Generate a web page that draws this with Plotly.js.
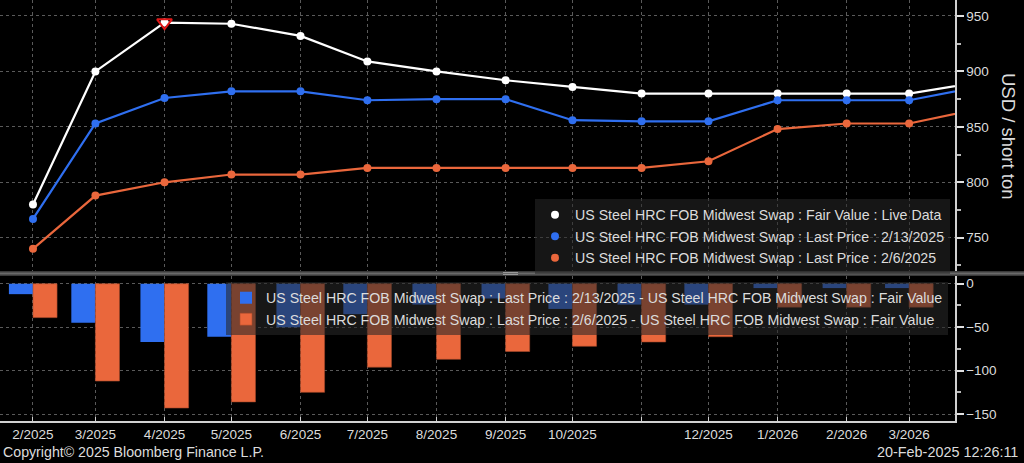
<!DOCTYPE html>
<html>
<head>
<meta charset="utf-8">
<script src="https://cdn.plot.ly/plotly-3.0.1.min.js"></script>
<style>
html,body{margin:0;padding:0;background:#000;}
#chart{width:1024px;height:463px;}
</style>
</head>
<body>
<div id="chart"></div>
<script>
// ---- data ----
var months = ['2025-02-01','2025-03-01','2025-04-01','2025-05-01','2025-06-01','2025-07-01','2025-08-01','2025-09-01','2025-10-01','2025-11-01','2025-12-01','2026-01-01','2026-02-01','2026-03-01','2026-04-01'];
var fairValue = [780, 900, 944, 943, 932, 909, 900, 892, 886, 880, 880, 880, 880, 880, 890];
var last0213  = [767, 853, 876, 882, 882, 874, 875, 875, 856, 855, 855, 874, 874, 874, 886];
var last0206  = [740, 788, 800, 807, 807, 813, 813, 813, 813, 813, 819, 848, 853, 853, 866];

var barMonths = ['2025-02-01','2025-03-01','2025-04-01','2025-05-01','2025-06-01','2025-07-01','2025-08-01','2025-09-01','2025-10-01','2025-11-01','2025-12-01','2026-01-01','2026-02-01','2026-03-01'];
var diff0213 = [-12, -45, -67, -61, -50, -35, -24, -17, -29, -24, -24, -5, -5, -5];
var diff0206 = [-39, -112, -143, -136, -125, -96, -87, -78, -72, -67, -61, -27, -27, -27];

var tickVals = ['2025-02-01','2025-03-01','2025-04-01','2025-05-01','2025-06-01','2025-07-01','2025-08-01','2025-09-01','2025-10-01','2025-11-01','2025-12-01','2026-01-01','2026-02-01','2026-03-01'];
var tickText = ['2/2025','3/2025','4/2025','5/2025','6/2025','7/2025','8/2025','9/2025','10/2025','','12/2025','1/2026','2/2026','3/2026'];

var nameFV = 'US Steel HRC FOB Midwest Swap : Fair Value : Live Data';
var name13 = 'US Steel HRC FOB Midwest Swap : Last Price : 2/13/2025';
var name06 = 'US Steel HRC FOB Midwest Swap : Last Price : 2/6/2025';
var nameD13 = 'US Steel HRC FOB Midwest Swap : Last Price : 2/13/2025 - US Steel HRC FOB Midwest Swap : Fair Value';
var nameD06 = 'US Steel HRC FOB Midwest Swap : Last Price : 2/6/2025 - US Steel HRC FOB Midwest Swap : Fair Value';

// ---- style ----
var WHITE = '#ffffff', BLUE = '#2f6ff0', ORANGE = '#ea673c';
var TXT = '#dcdcdc', GRID = '#5a5a5a';
var FONT = 'Liberation Sans, Arial, sans-serif';
var DAY = 86400000;
var barW = 10.8 * DAY;

var maxIdx = fairValue.indexOf(Math.max.apply(null, fairValue));

function lineTrace(y, color){
  return {x: months, y: y, xaxis:'x2', yaxis:'y2', type:'scatter', mode:'lines',
          line:{color: color, width:2.2}, showlegend:false, hoverinfo:'skip'};
}
function markerTrace(y, color, name){
  return {x: months, y: y, xaxis:'x2', yaxis:'y2', type:'scatter', mode:'markers',
          marker:{color: color, size:8, symbol:'circle'}, name: name, legend:'legend'};
}

var data = [
  lineTrace(last0206, ORANGE),
  lineTrace(last0213, BLUE),
  lineTrace(fairValue, WHITE),
  markerTrace(fairValue, WHITE, nameFV),
  markerTrace(last0213, BLUE, name13),
  markerTrace(last0206, ORANGE, name06),
  {x:[months[maxIdx]], y:[fairValue[maxIdx]], xaxis:'x2', yaxis:'y2', type:'scatter', mode:'markers',
   marker:{symbol:'triangle-down-open', size:13, color:'#e01818', line:{width:2, color:'#e01818'}}, showlegend:false},
  {x: barMonths, y: diff0213, type:'bar', xaxis:'x', yaxis:'y', name: nameD13, legend:'legend2',
   width: barW, offset: -barW, marker:{color: BLUE, line:{width:0}}},
  {x: barMonths, y: diff0206, type:'bar', xaxis:'x', yaxis:'y', name: nameD06, legend:'legend2',
   width: barW, offset: 0, marker:{color: ORANGE, line:{width:0.6, color:'#a84a2a'}}}
];

var xRange = ['2025-01-17 05:00', '2026-03-21 14:00'];
var PW = 955, PH = 421;
var LEGFONT = 14.2;

var layout = {
  width: 1024, height: 463,
  paper_bgcolor: '#000', plot_bgcolor: '#000',
  margin: {l:0, r:69, t:0, b:42, pad:0},
  font: {family: FONT, color: TXT, size: 13},
  barmode: 'overlay',
  xaxis: {type:'date', range: xRange, anchor:'y', tickvals: tickVals, ticktext: tickText,
          showgrid:true, gridcolor: GRID, griddash:'dot', gridwidth:1,
          showline:true, linecolor:'#d0d0d0', linewidth:1.5,
          ticks:'inside', ticklen:4, tickcolor:'#d0d0d0',
          tickfont:{size:13.5, color: TXT, family: FONT}, zeroline:false, fixedrange:true},
  xaxis2: {type:'date', range: xRange, anchor:'y2', matches:'x', tickvals: tickVals, showticklabels:false,
          showgrid:true, gridcolor: GRID, griddash:'dot', gridwidth:1, showline:false, ticks:'', zeroline:false},
  yaxis: {domain:[0, (PH-276)/PH], range:[-158, 8.9], side:'right', anchor:'x',
          dtick:50, tick0:0, showgrid:true, gridcolor: GRID, griddash:'dot', gridwidth:1,
          showline:true, linecolor:'#d0d0d0', linewidth:1.5, zeroline:false,
          ticks:'outside', ticklen:7, tickwidth:2, tickcolor:'#e0e0e0',
          minor:{dtick:25, ticks:'outside', ticklen:4, tickcolor:'#bbbbbb', showgrid:false},
          tickfont:{size:13.5, color: TXT, family: FONT}},
  yaxis2: {domain:[(PH-271)/PH, 1], range:[720, 964.4], side:'right', anchor:'x2',
          dtick:50, tick0:0, showgrid:true, gridcolor: GRID, griddash:'dot', gridwidth:1,
          showline:true, linecolor:'#d0d0d0', linewidth:1.5, zeroline:false,
          ticks:'outside', ticklen:7, tickwidth:2, tickcolor:'#e0e0e0',
          minor:{dtick:25, ticks:'outside', ticklen:4, tickcolor:'#bbbbbb', showgrid:false},
          tickfont:{size:13.5, color: TXT, family: FONT}},
  legend: {x: 535/PW, y: (PH-199)/PH, xanchor:'left', yanchor:'top',
           bgcolor:'rgba(40,40,40,0.55)', borderwidth:0,
           font:{size:LEGFONT, color: TXT, family: FONT}, itemwidth:30, tracegroupgap:0,
           itemclick:false, itemdoubleclick:false},
  legend2: {x: 226/PW, y: (PH-282)/PH, xanchor:'left', yanchor:'top',
           bgcolor:'rgba(40,40,40,0.58)', borderwidth:0,
           font:{size:LEGFONT, color: TXT, family: FONT}, itemwidth:30, tracegroupgap:0,
           itemclick:false, itemdoubleclick:false},
  shapes: [
    {type:'rect', xref:'paper', yref:'paper', x0:0, x1:1024/PW, y0:(PH-276)/PH, y1:(PH-271)/PH,
     fillcolor:'#3a3a3a', line:{width:0}, layer:'above'},
    {type:'line', xref:'paper', yref:'paper', x0:0, x1:1024/PW, y0:(PH-273.5)/PH, y1:(PH-273.5)/PH,
     line:{color:'#6a6a6a', width:2}, layer:'above'},
    {type:'line', xref:'paper', yref:'paper', x0:503/PW, x1:518/PW, y0:(PH-272.5)/PH, y1:(PH-272.5)/PH,
     line:{color:'#9a9a9a', width:1}, layer:'above'},
    {type:'line', xref:'paper', yref:'paper', x0:503/PW, x1:518/PW, y0:(PH-274.5)/PH, y1:(PH-274.5)/PH,
     line:{color:'#9a9a9a', width:1}, layer:'above'}
  ],
  annotations: [
    {text:'USD / short ton', xref:'paper', yref:'paper', x:1008/PW, y:(PH-136)/PH,
     textangle:90, showarrow:false, xanchor:'center', yanchor:'middle',
     font:{size:18.5, color: TXT, family: FONT}},
    {text:'Copyright\u00a9 2025 Bloomberg Finance L.P.', xref:'paper', yref:'paper', x:1/PW, y:(PH-452)/PH,
     showarrow:false, xanchor:'left', yanchor:'middle', font:{size:14.2, color: TXT, family: FONT}},
    {text:'20-Feb-2025 12:26:11', xref:'paper', yref:'paper', x:1020/PW, y:(PH-452)/PH,
     showarrow:false, xanchor:'right', yanchor:'middle', font:{size:14.4, color: TXT, family: FONT}}
  ],
  hovermode:false,
  showlegend:true
};

Plotly.newPlot('chart', data, layout, {displayModeBar:false, staticPlot:true});
</script>
</body>
</html>
